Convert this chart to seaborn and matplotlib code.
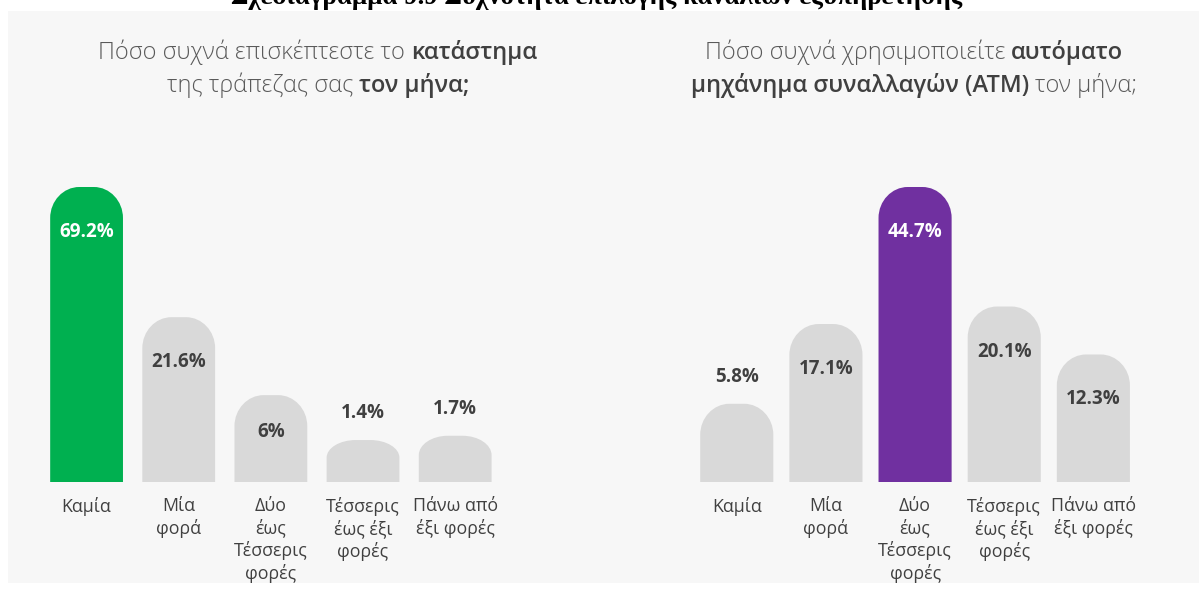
import numpy as np
import pandas as pd
import matplotlib
matplotlib.use("Agg")
import matplotlib.pyplot as plt
import seaborn as sns
from matplotlib.path import Path
from matplotlib.patches import PathPatch, Rectangle
from matplotlib.transforms import IdentityTransform

sns.set_theme(style="white")
plt.rcParams["font.family"] = ["Open Sans", "DejaVu Sans"]

# ---- data -------------------------------------------------------------
figure_title = "Σχεδιάγραμμα 9.9 Συχνότητα επιλογής καναλιών εξυπηρέτησης"

categories = ["Καμία", "Μία φορά", "Δύο έως Τέσσερις φορές",
              "Τέσσερις έως έξι φορές", "Πάνω από έξι φορές"]
tick_labels = ["Καμία", "Μία\nφορά", "Δύο\nέως\nΤέσσερις\nφορές",
               "Τέσσερις\nέως έξι\nφορές", "Πάνω από\nέξι φορές"]

branch_values = [69.2, 21.6, 6.0, 1.4, 1.7]
atm_values = [5.8, 17.1, 44.7, 20.1, 12.3]

branch_title = [[("Πόσο συχνά επισκέπτεστε το", False), ("κατάστημα", True)],
                [("της τράπεζας σας", False), ("τον μήνα;", True)]]
atm_title = [[("Πόσο συχνά χρησιμοποιείτε", False), ("αυτόματο", True)],
             [("μηχάνημα συναλλαγών (ΑΤΜ)", True), ("τον μήνα;", False)]]

# ---- styling ----------------------------------------------------------
W, H = 1199, 589
PANEL_BG = "#f7f7f7"
GREY_BAR = "#d9d9d9"
GREEN = "#00b050"
PURPLE = "#7030a0"
TEXT_DARK = "#404040"
TITLE_GREY = "#5a5a5a"
AX_H = 310          # axes height in px
BAR_MAX_PX = 295    # height of the tallest bar in px
BASELINE = 482      # bar baseline, px from top

fig = plt.figure(figsize=(W / 100, H / 100), dpi=100, facecolor="white")
fig.add_artist(Rectangle((8 / W, 1 - 583 / H), (W - 8) / W, (583 - 11) / H,
                         transform=fig.transFigure, facecolor=PANEL_BG,
                         edgecolor="none", zorder=-10))


def px_axes(left, top, width, height):
    return fig.add_axes([left / W, 1 - (top + height) / H, width / W, height / H])


def power_scale(p):
    fwd = lambda y: np.sign(y) * np.abs(y) ** p
    inv = lambda y: np.sign(y) * np.abs(y) ** (1 / p)
    return fwd, inv


def draw_panel(ax, values, highlight, power, bar_width):
    df = pd.DataFrame({"category": categories, "share": values})
    top_idx = int(np.argmax(values))
    palette = {c: (highlight if i == top_idx else GREY_BAR) for i, c in enumerate(categories)}
    sns.barplot(data=df, x="category", y="share", hue="category", order=categories,
                hue_order=categories, palette=palette, legend=False, width=bar_width,
                saturation=1, ax=ax)
    ax.set_yscale("function", functions=power_scale(power))
    ax.set_ylim(0, max(values) * (AX_H / BAR_MAX_PX) ** (1 / power))
    ax.set_xlim(-0.5, len(categories) - 0.5)
    ax.set_xticks(range(len(categories)))
    ax.set_xticklabels(tick_labels, fontsize=12.8, color=TEXT_DARK, linespacing=1.25)
    ax.tick_params(axis="x", length=0, pad=11)
    ax.set_yticks([])
    ax.set_xlabel("")
    ax.set_ylabel("")
    ax.set_facecolor("none")
    for s in ax.spines.values():
        s.set_visible(False)


ax_l = px_axes(40.5, BASELINE - AX_H, 460.75, AX_H)
ax_r = px_axes(692.2, BASELINE - AX_H, 445.75, AX_H)
panels = [(ax_l, branch_values, GREEN, 0.5, 0.79),
          (ax_r, atm_values, PURPLE, 0.65, 0.82)]
for ax, vals, col, p, bw in panels:
    draw_panel(ax, vals, col, p, bw)

fig.canvas.draw()
renderer = fig.canvas.get_renderer()


def dome_path(x0, x1, y0, y1):
    w, h = x1 - x0, y1 - y0
    rx = 0.40 * w
    ry = min(31.0, 0.42 * h)
    k = 0.55
    verts = [(x0, y0), (x0, y1 - ry),
             (x0, y1 - ry + k * ry), (x0 + rx - k * rx, y1), (x0 + rx, y1),
             (x1 - rx, y1),
             (x1 - rx + k * rx, y1), (x1, y1 - ry + k * ry), (x1, y1 - ry),
             (x1, y0), (x0, y0)]
    codes = [Path.MOVETO, Path.LINETO,
             Path.CURVE4, Path.CURVE4, Path.CURVE4,
             Path.LINETO,
             Path.CURVE4, Path.CURVE4, Path.CURVE4,
             Path.LINETO, Path.CLOSEPOLY]
    return Path(verts, codes)


# replace the flat-topped bars by dome-topped ones and label them
for ax, vals, col, p, bw in panels:
    for patch in list(ax.patches):
        bb = patch.get_window_extent(renderer)
        if bb.height <= 0:
            continue
        idx = int(round(patch.get_x() + patch.get_width() / 2))
        dome = PathPatch(dome_path(bb.x0, bb.x1, bb.y0, bb.y1), transform=IdentityTransform(),
                         facecolor=patch.get_facecolor(), edgecolor="none", clip_on=False, zorder=2)
        patch.set_visible(False)
        ax.add_artist(dome)
        v = vals[idx]
        inside = v >= 6
        if inside:
            off_px = -min(45.0, 0.43 * bb.height)
        else:
            off_px = 27.0
        is_top = idx == int(np.argmax(vals))
        ax.annotate(f"{v:g}%", xy=(idx, v), xycoords="data",
                    xytext=(0, off_px * 0.72), textcoords="offset points",
                    ha="center", va="center", fontsize=13.5, fontweight="bold",
                    color="white" if is_top else TEXT_DARK, zorder=5)


def space_width(size, weight):
    a = fig.text(0, 0, "a a", fontsize=size, fontweight=weight)
    b = fig.text(0, 0, "aa", fontsize=size, fontweight=weight)
    w = a.get_window_extent(renderer).width - b.get_window_extent(renderer).width
    a.remove()
    b.remove()
    return w


def rich_line(pieces, xc_px, baseline_px, size):
    styles = {False: dict(color=TITLE_GREY, fontweight="light"),
              True: dict(color=TEXT_DARK, fontweight="semibold")}
    sp = space_width(size, "light")
    texts, widths = [], []
    for s, bold in pieces:
        t = fig.text(0, 0, s, fontsize=size, ha="left", va="baseline",
                     transform=IdentityTransform(), **styles[bold])
        texts.append(t)
        widths.append(t.get_window_extent(renderer).width)
    total = sum(widths) + sp * (len(texts) - 1)
    x = xc_px - total / 2
    for t, w in zip(texts, widths):
        t.set_position((x, H - baseline_px))
        x += w + sp


for line, base in zip(branch_title, [59, 92]):
    rich_line(line, 318, base, 17)
for line, base in zip(atm_title, [59, 92]):
    rich_line(line, 914, base, 17)

# figure caption sitting at the very top edge
fig.text(596.5 / W, 1 - 4 / H, figure_title, ha="center", va="baseline",
         fontfamily=["Liberation Serif", "DejaVu Serif"], fontweight="bold",
         fontsize=19.4, color="black")

fig.savefig("out.png", dpi=100, facecolor="white")
